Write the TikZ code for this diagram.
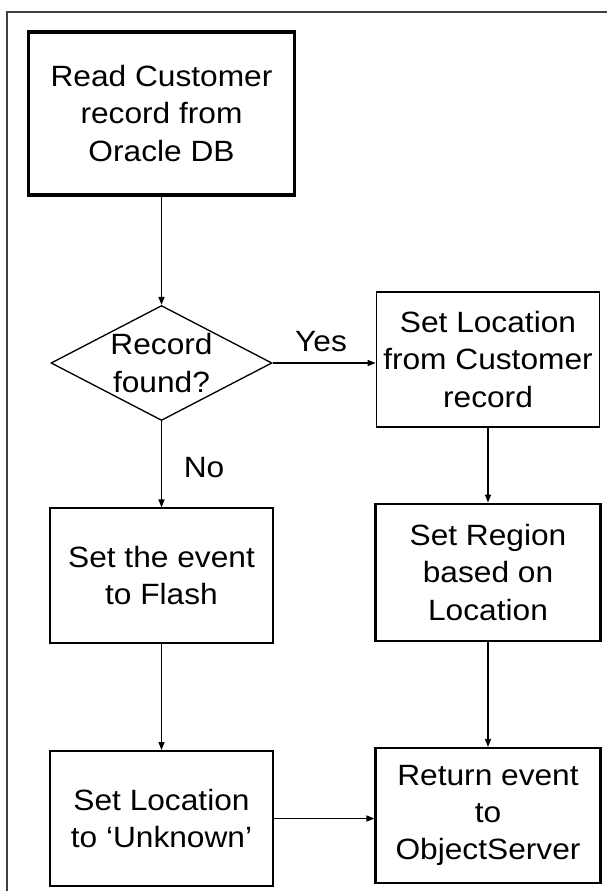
\documentclass[tikz,border=0pt]{standalone}
\usepackage{fontspec}
\setmainfont{Liberation Sans}[FakeStretch=1.08]
\usetikzlibrary{shapes.geometric,arrows.meta,calc}
\tikzset{
  box/.style={draw=black, rectangle, align=center, inner sep=0pt,
    font=\fontsize{22pt}{28pt}\selectfont},
  decbox/.style={draw=black, diamond, inner sep=0pt, line width=1pt},
  lbl/.style={font=\fontsize{22pt}{28pt}\selectfont, inner sep=0pt},
  arr/.style={line width=1pt, -{Triangle[length=6pt,width=4.5pt]}},
  frame/.style={draw=black!75, line width=1.3pt}
}
\begin{document}
\begin{tikzpicture}[x=0.75pt,y=-0.75pt]
\useasboundingbox (0,0) rectangle (607,891);
\fill[white] (0,0) rectangle (607,891);
% outer frame (top and left edges visible)
\coordinate (ftl) at (7,12);
\coordinate (ftr) at (607,12);
\coordinate (fbl) at (7,891);
\draw[frame] (ftr) -- (ftl) -- (fbl);

\node[box, line width=2.4pt, minimum width=266*0.75pt, minimum height=163*0.75pt] (read) at (161.5,113.5)
  {Read Customer\\record from\\Oracle DB};
\node[decbox, minimum width=221*0.75pt, minimum height=115*0.75pt,
  label={[lbl, align=center]center:Record\\found?}] (dec) at (161.5,363) {};
\node[box, line width=1.2pt, minimum width=223*0.75pt, minimum height=135*0.75pt] (loc1) at (488,359.5)
  {Set Location\\from Customer\\record};
\node[box, line width=0.9pt, minimum width=223*0.75pt, minimum height=135*0.75pt] (flash) at (161.5,575.5)
  {Set the event\\to Flash};
\node[box, line width=2.2pt, minimum width=225*0.75pt, minimum height=137*0.75pt] (region) at (488,572.5)
  {Set Region\\based on\\Location};
\node[box, line width=1.5pt, minimum width=223*0.75pt, minimum height=135*0.75pt] (unknown) at (161.5,818.5)
  {Set Location\\to `Unknown'};
\node[box, line width=1.6pt, minimum width=225*0.75pt, minimum height=135*0.75pt] (ret) at (488,815.5)
  {Return event\\to\\ObjectServer};

\node[lbl] (yes) at (321,342) {Yes};
\node[lbl] (no) at (204,468) {No};

\draw[arr] (read.south) -- (dec.north);
\draw[arr] (dec.east) -- (dec.east -| loc1.west);
\draw[arr] (dec.south) -- (flash.north);
\draw[arr] (loc1.south) -- (region.north);
\draw[arr] (flash.south) -- (unknown.north);
\draw[arr] (region.south) -- (ret.north);
\draw[arr] (unknown.east) -- (unknown.east -| ret.west);
\end{tikzpicture}
\end{document}
